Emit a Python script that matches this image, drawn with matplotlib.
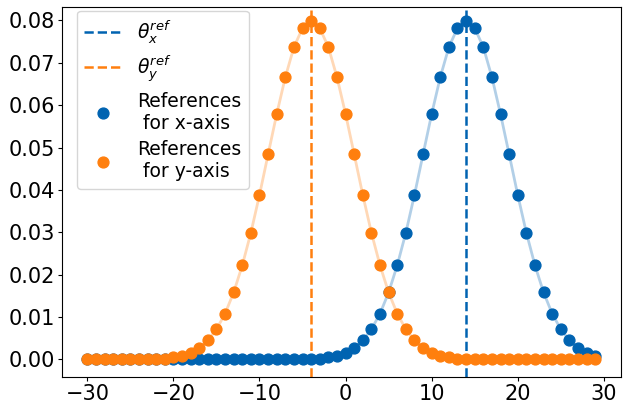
import numpy as np
import matplotlib.pyplot as plt

# reference angles (integer positions)
x = np.arange(-30, 30)

ref_x = [0, 0, 0, 0, 0, 0, 0, 0, 0, 0,
         0, 0, 0, 0, 0, 0, 0, 0, 0, 0,
         0, 0, 0, 0, 0,
         0.0001, 0.0001, 0.0002, 0.0005, 0.0009,
         0.0016, 0.0027, 0.0045, 0.0071, 0.0108,
         0.0158, 0.0222, 0.0299, 0.0388, 0.0484,
         0.0579, 0.0666, 0.0737, 0.0782, 0.0798,
         0.0782, 0.0737, 0.0666, 0.0579, 0.0484,
         0.0388, 0.0299, 0.0222, 0.0158, 0.0108,
         0.0071, 0.0045, 0.0027, 0.0016, 0.0009]

ref_y = [0, 0, 0, 0, 0, 0, 0,
         0.0001, 0.0001, 0.0002, 0.0005, 0.0009,
         0.0016, 0.0027, 0.0045, 0.0071, 0.0108,
         0.0158, 0.0222, 0.0299, 0.0388, 0.0484,
         0.0579, 0.0666, 0.0737, 0.0782, 0.0798,
         0.0782, 0.0737, 0.0666, 0.0579, 0.0484,
         0.0388, 0.0299, 0.0222, 0.0158, 0.0108,
         0.0071, 0.0045, 0.0027, 0.0016, 0.0009,
         0.0005, 0.0002, 0.0001, 0.0001,
         0, 0, 0, 0, 0, 0, 0, 0, 0, 0, 0, 0, 0, 0]

theta_x_ref = 14
theta_y_ref = -4

blue = '#0063b1'
orange = '#ff7f0e'

fig, ax = plt.subplots(figsize=(6.32, 4.03), dpi=100)

ax.plot(x, ref_x, color=blue, alpha=0.3, lw=2)
ax.plot(x, ref_y, color=orange, alpha=0.3, lw=2)
ax.axvline(theta_x_ref, color=blue, ls='--', lw=1.8, label=r'$\theta_x^{ref}$')
ax.axvline(theta_y_ref, color=orange, ls='--', lw=1.8, label=r'$\theta_y^{ref}$')
ax.plot(x, ref_x, 'o', color=blue, ms=7.8, label='References\n for x-axis')
ax.plot(x, ref_y, 'o', color=orange, ms=7.8, label='References\n for y-axis')

ax.set_ylim(-0.0042, 0.0832)
ax.tick_params(labelsize=15, pad=2, length=3)
ax.set_yticks(np.arange(0, 0.081, 0.01))
ax.legend(fontsize=13.5, loc='upper left', labelspacing=0.4,
          bbox_to_anchor=(0.02, 1.0), borderaxespad=0.2)

plt.subplots_adjust(left=0.098, right=0.982, top=0.983, bottom=0.064)
plt.savefig('out.png')
